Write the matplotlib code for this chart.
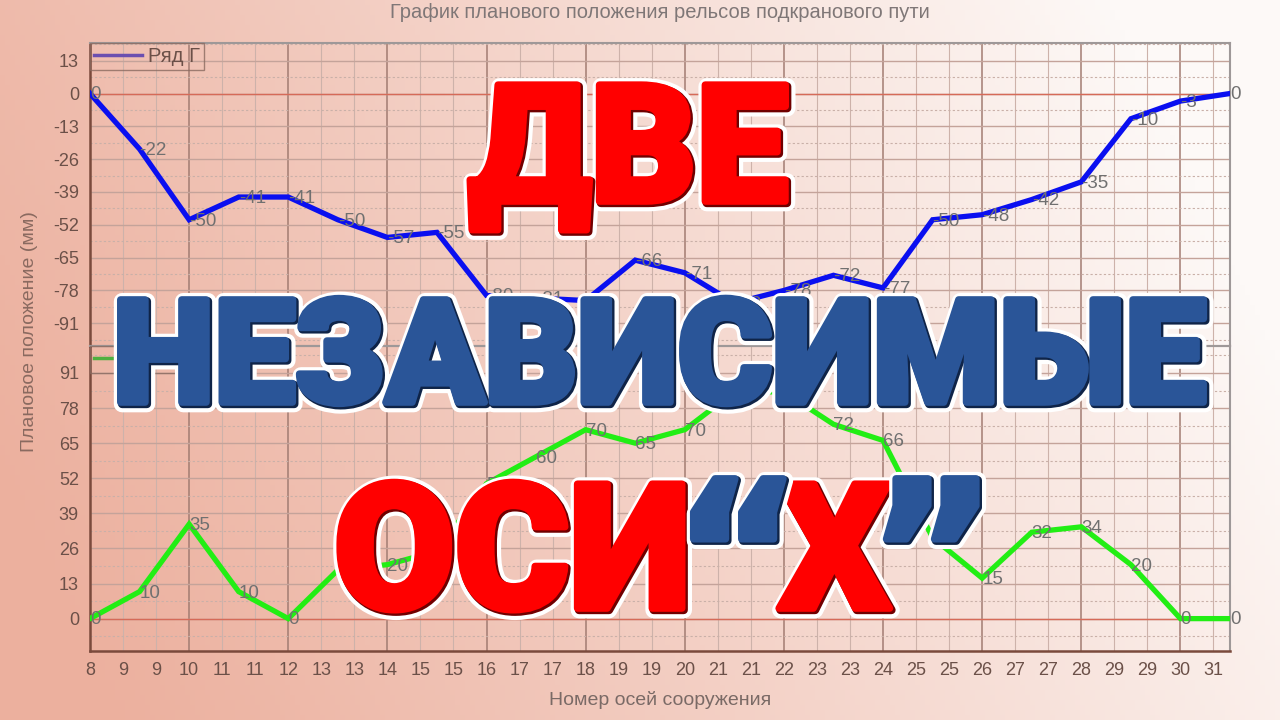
import numpy as np
import matplotlib
matplotlib.use("Agg")
import matplotlib.pyplot as plt
import matplotlib.patheffects as pe
from matplotlib.lines import Line2D

# axis numbers along the structure
axis_no = [8, 9, 10, 11, 12, 13, 14, 15, 16, 17, 18, 19,
           20, 21, 22, 23, 24, 25, 26, 27, 28, 29, 30, 31]
# row G (top panel), mm
row_g = [0, -22, -50, -41, -41, -50, -57, -55, -80, -81, -82, -66,
         -71, -83, -78, -72, -77, -50, -48, -42, -35, -10, -3, 0]
# row D (bottom panel), mm
row_d = [0, 10, 35, 10, 0, 18, 20, 25, 50, 60, 70, 65,
         70, 84, 84, 72, 66, 30, 15, 32, 34, 20, 0, 0]

x_tick_labels = ["8", "9", "9", "10", "11", "11", "12", "13", "13", "14",
                 "15", "15", "16", "17", "17", "18", "19", "19", "20", "21",
                 "21", "22", "23", "23", "24", "25", "25", "26", "27", "27",
                 "28", "29", "29", "30", "31"]
top_y_ticks = [-91, -78, -65, -52, -39, -26, -13, 0, 13]
bot_y_ticks = [0, 13, 26, 39, 52, 65, 78, 91]

TXT = "#6b5048"
LBL = "#707070"
plt.rcParams["font.family"] = ["Liberation Sans", "DejaVu Sans"]

fig = plt.figure(figsize=(12.8, 7.2), dpi=100)

# background gradient
bg = fig.add_axes([0, 0, 1, 1], zorder=-10)
gx, gy = np.meshgrid(np.linspace(0, 1, 256), np.linspace(0, 1, 144))
t = np.clip(gx * 0.95 + (0.5 - gy) * 0.25 + 0.05, 0, 1) ** 1.1
left_c = np.array([236, 176, 158]) / 255
right_c = np.array([253, 249, 247]) / 255
img = left_c[None, None, :] * (1 - t[..., None]) + right_c[None, None, :] * t[..., None]
bg.imshow(img, aspect="auto", extent=(0, 1, 0, 1), origin="upper")
bg.axis("off")

L, W = 90 / 1280, 1140 / 1280
ax_top = fig.add_axes([L, 1 - 346 / 720, W, 303 / 720], facecolor="none")
ax_bot = fig.add_axes([L, 1 - 651 / 720, W, 305 / 720], facecolor="none")

x_ticks = 8 + np.arange(len(x_tick_labels)) * 2 / 3


def style_axes(ax, yticks, ylim, show_x):
    ax.set_xlim(8, 31)
    ax.set_ylim(*ylim)
    ax.set_yticks(yticks)
    ax.set_yticklabels([str(v) for v in yticks])
    ax.set_xticks(x_ticks)
    if show_x:
        ax.set_xticklabels(x_tick_labels)
    else:
        ax.set_xticklabels([])
    ax.tick_params(length=0, colors=TXT, labelsize=13, pad=8)
    # vertical grid
    for i, xv in enumerate(x_ticks):
        major = i % 3 == 0
        ax.axvline(xv, color="#a27c72" if major else "#cdb2aa",
                   lw=1.1 if major else 0.8, zorder=0)
    # horizontal grid
    for yv in yticks:
        ax.axhline(yv, color="#c4a39a", lw=1.0, zorder=0)
    for yv in np.array(yticks) + 6.5:
        ax.axhline(yv, color="#c9b0a8", lw=0.8, ls=(0, (2, 2)), zorder=0)
    ax.axhline(yticks[0] - 6.5, color="#c9b0a8", lw=0.8, ls=(0, (2, 2)), zorder=0)
    ax.axhline(0, color="#d66a58", lw=1.0, zorder=1)
    for s in ["left", "bottom"]:
        ax.spines[s].set_color("#7a4a3c")
        ax.spines[s].set_linewidth(1.8)
    for s in ["top", "right"]:
        ax.spines[s].set_color("#9e9898")
        ax.spines[s].set_linewidth(1.5)


style_axes(ax_top, top_y_ticks, (-100, 20), False)
style_axes(ax_bot, bot_y_ticks, (-12, 101), True)
ax_top.spines["bottom"].set_color("#9e9090")
ax_top.spines["bottom"].set_linewidth(1.5)

ax_top.plot(axis_no, row_g, color="#0a0ff0", lw=3.8, zorder=3,
            solid_joinstyle="miter")
ax_bot.plot(axis_no, row_d, color="#22ee14", lw=3.8, zorder=3,
            solid_joinstyle="miter")

for ax, vals in [(ax_top, row_g), (ax_bot, row_d)]:
    for xv, yv in zip(axis_no, vals):
        ax.annotate(str(yv), (xv, yv), xytext=(0, -1), textcoords="offset points",
                    ha="left", va="center", color=LBL, fontsize=13.5, zorder=4,
                    annotation_clip=False)

for ax, name, c in [(ax_top, "Ряд Г", "#6b4fb0"), (ax_bot, "Ряд Д", "#4fb040")]:
    leg = ax.legend(handles=[Line2D([], [], color=c, lw=2.5)], labels=[name],
                    loc="upper left", borderaxespad=0, fancybox=False,
                    handlelength=2.4, handletextpad=0.3, fontsize=14.5,
                    borderpad=0.2, facecolor="none")
    leg.get_frame().set_edgecolor("#8a6a60")
    leg.get_frame().set_linewidth(1.0)
    for txt in leg.get_texts():
        txt.set_color(TXT)

fig.text(660 / 1280, 1 - 12 / 720, "График планового положения рельсов подкранового пути",
         ha="center", va="center", fontsize=14.5, color="#7f7777")
fig.text(660 / 1280, 1 - 700 / 720, "Номер осей сооружения",
         ha="center", va="center", fontsize=14, color="#7a6a66")
fig.text(30 / 1280, 1 - 332 / 720, "Плановое положение (мм)", rotation=90,
         ha="center", va="center", fontsize=14, color="#8a6a60")

# big overlay captions
RED = "#ff0000"
BLUE = "#2a5598"


def effects(fill, dark):
    return [pe.Stroke(linewidth=12, foreground="white", joinstyle="round"),
            pe.Stroke(linewidth=6, foreground=dark, joinstyle="round"),
            pe.Stroke(linewidth=5, foreground=fill, joinstyle="round", offset=(-1.2, 1.2)),
            pe.Normal(offset=(-1.2, 1.2))]


def big(x, y, s, size, fill, dark, fam=("Roboto", "DejaVu Sans"), weight="black"):
    fig.text(x / 1280, 1 - y / 720, s, ha="center", va="baseline",
             fontsize=size, fontweight=weight, family=list(fam),
             color=fill, path_effects=effects(fill, dark), zorder=10)


big(630, 203, "ДВЕ", 118, RED, "#700000")
big(661, 404, "НЕЗАВИСИМЫЕ", 104, BLUE, "#0f2448")
big(514, 610, "ОСИ", 126, RED, "#700000")
big(836, 610, "Х", 126, RED, "#700000")
big(739, 622, "“", 140, BLUE, "#0f2448", fam=("DejaVu Sans",), weight="bold")
big(934, 622, "”", 140, BLUE, "#0f2448", fam=("DejaVu Sans",), weight="bold")

fig.savefig("out.png", dpi=100)
